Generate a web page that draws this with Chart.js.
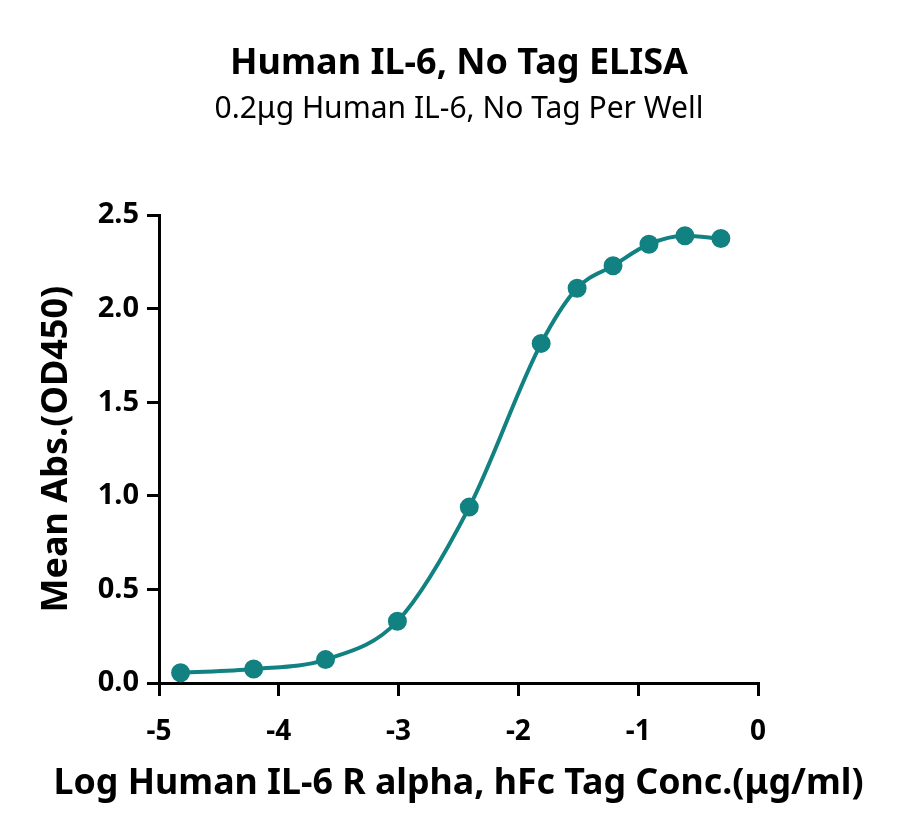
<!DOCTYPE html>
<html>
<head>
<meta charset="utf-8">
<title>Human IL-6, No Tag ELISA</title>
<script src="https://cdn.jsdelivr.net/npm/chart.js@4.4.1/dist/chart.umd.min.js"></script>
<style>
  html, body { margin: 0; padding: 0; background: #fff; }
  #wrap { width: 900px; height: 840px; }
</style>
</head>
<body>
<div id="wrap"><canvas id="myChart"></canvas></div>
<script>
// log concentration (ug/ml) and mean OD450
const logConc = [-4.82, -4.21, -3.61, -3.01, -2.41, -1.81, -1.51, -1.21, -0.91, -0.61, -0.31];
const meanAbs = [0.055, 0.075, 0.125, 0.33, 0.94, 1.815, 2.11, 2.23, 2.345, 2.39, 2.375];
const xTicks = [-5, -4, -3, -2, -1, 0];
const yTicks = [0, 0.5, 1.0, 1.5, 2.0, 2.5];
const xTitle = 'Log Human IL-6 R alpha, hFc Tag Conc.(\u03bcg/ml)';

const teal = '#128181';
const fontFam = "'Noto Sans', 'Open Sans', sans-serif";

// the x title is wider than the plot area, so Chart.js' own scale title
// would squeeze it; draw it centred under the axis instead
const wideXTitle = {
  id: 'wideXTitle',
  afterDraw(chart) {
    const c = chart.ctx;
    const area = chart.chartArea;
    c.save();
    c.fillStyle = '#000';
    c.font = 'bold 36px ' + fontFam;
    c.textAlign = 'center';
    c.textBaseline = 'middle';
    c.fillText(xTitle, (area.left + area.right) / 2, 784, 810);
    c.restore();
  }
};

document.addEventListener('DOMContentLoaded', function () {
  const ctx = document.getElementById('myChart');

  var points = [];
  for (let i = 0; i < logConc.length; i++) {
    points.push({ x: logConc[i], y: meanAbs[i] });
  }

  new Chart(ctx, {
    type: 'scatter',
    data: {
      datasets: [{
        label: 'Human IL-6, No Tag',
        data: points,
        showLine: true,
        cubicInterpolationMode: 'monotone',
        borderColor: teal,
        backgroundColor: teal,
        borderWidth: 4,
        pointRadius: 7.5,
        pointHoverRadius: 7.5
      }]
    },
    plugins: [wideXTitle],
    options: {
      responsive: true,
      maintainAspectRatio: false,
      animation: false,
      layout: { padding: { left: 18, right: 0, top: 0, bottom: 0 } },
      plugins: {
        legend: { display: false },
        tooltip: { enabled: false },
        title: {
          display: true,
          text: 'Human IL-6, No Tag ELISA',
          color: '#000',
          font: { family: fontFam, size: 36, weight: 'bold', lineHeight: 1.2 },
          padding: { top: 42, bottom: 6 }
        },
        subtitle: {
          display: true,
          text: '0.2\u03bcg Human IL-6, No Tag Per Well',
          color: '#000',
          font: { family: fontFam, size: 30, weight: 'normal', lineHeight: 1.2 },
          padding: { top: 0, bottom: 88 }
        }
      },
      scales: {
        x: {
          type: 'linear',
          min: -5,
          max: 0,
          afterFit: function (s) { s.height = 157; },
          afterBuildTicks: function (s) { s.ticks = xTicks.map(v => ({ value: v })); },
          ticks: {
            color: '#000',
            padding: 19,
            font: { family: fontFam, size: 28, weight: 'bold' },
            callback: v => String(v)
          },
          grid: { drawOnChartArea: false, drawTicks: true, tickLength: 13, lineWidth: 3, color: '#000' },
          border: { display: true, color: '#000', width: 3 },
          title: { display: false }
        },
        y: {
          type: 'linear',
          min: 0,
          max: 2.5,
          afterFit: function (s) { s.width = 141; },
          afterBuildTicks: function (s) { s.ticks = yTicks.map(v => ({ value: v })); },
          ticks: {
            color: '#000',
            padding: 8,
            font: { family: fontFam, size: 29, weight: 'bold' },
            callback: v => v.toFixed(1)
          },
          grid: { drawOnChartArea: false, drawTicks: true, tickLength: 12, lineWidth: 3, color: '#000' },
          border: { display: true, color: '#000', width: 3 },
          title: {
            display: true,
            text: 'Mean Abs.(OD450)',
            color: '#000',
            font: { family: fontFam, size: 36, weight: 'bold', lineHeight: 1.2 },
            padding: { top: 17, bottom: 0 }
          }
        },
        // empty right-hand axis that only reserves the white margin
        yRight: {
          type: 'linear',
          position: 'right',
          min: 0,
          max: 2.5,
          afterFit: function (s) { s.width = 142; },
          ticks: { display: false },
          grid: { display: false },
          border: { display: false }
        }
      }
    }
  });
});
</script>
</body>
</html>
